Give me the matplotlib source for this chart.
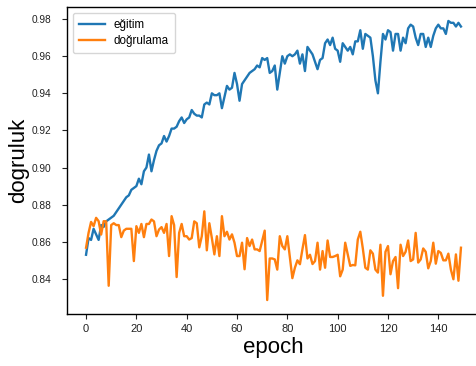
import matplotlib
matplotlib.use("Agg")
import matplotlib.pyplot as plt
import numpy as np

plt.rcParams['font.family'] = ['Liberation Sans', 'DejaVu Sans']

egitim = [
    0.853, 0.862, 0.861, 0.867, 0.864, 0.861, 0.869, 0.868, 0.871, 0.872,
    0.873, 0.874, 0.876, 0.878, 0.880, 0.882, 0.884, 0.885, 0.888, 0.889,
    0.890, 0.894, 0.891, 0.898, 0.900, 0.907, 0.898, 0.904, 0.909, 0.912,
    0.913, 0.917, 0.914, 0.917, 0.921, 0.921, 0.922, 0.925, 0.927, 0.924,
    0.926, 0.927, 0.931, 0.929, 0.928, 0.928, 0.927, 0.934, 0.935, 0.934,
    0.940, 0.939, 0.939, 0.940, 0.932, 0.938, 0.944, 0.942, 0.943, 0.951,
    0.945, 0.936, 0.945, 0.947, 0.949, 0.951, 0.952, 0.953, 0.955, 0.954,
    0.959, 0.958, 0.959, 0.951, 0.952, 0.955, 0.942, 0.951, 0.960, 0.956,
    0.960, 0.961, 0.960, 0.961, 0.963, 0.956, 0.961, 0.952, 0.965, 0.963,
    0.961, 0.957, 0.953, 0.958, 0.959, 0.967, 0.969, 0.966, 0.970, 0.964,
    0.963, 0.957, 0.967, 0.965, 0.963, 0.965, 0.961, 0.968, 0.968, 0.974,
    0.964, 0.972, 0.971, 0.970, 0.960, 0.947, 0.940, 0.957, 0.972, 0.969,
    0.974, 0.973, 0.963, 0.972, 0.972, 0.963, 0.970, 0.967, 0.975, 0.977,
    0.976, 0.970, 0.966, 0.972, 0.972, 0.965, 0.970, 0.965, 0.971, 0.975,
    0.977, 0.975, 0.975, 0.972, 0.979, 0.978, 0.978, 0.976, 0.978, 0.976,
]

dogrulama = [
    0.8568, 0.8648, 0.8707, 0.8684, 0.8729, 0.8711, 0.8639, 0.8711, 0.8710, 0.8363,
    0.8690, 0.8700, 0.8690, 0.8690, 0.8625, 0.8660, 0.8670, 0.8670, 0.8670, 0.8496,
    0.8684, 0.8648, 0.8696, 0.8625, 0.8696, 0.8696, 0.8720, 0.8710, 0.8630, 0.8666,
    0.8679, 0.8648, 0.8696, 0.8523, 0.8738, 0.8690, 0.8410, 0.8648, 0.8696, 0.8630,
    0.8630, 0.8612, 0.8620, 0.8710, 0.8700, 0.8570, 0.8630, 0.8764, 0.8554, 0.8700,
    0.8620, 0.8532, 0.8630, 0.8523, 0.8738, 0.8630, 0.8654, 0.8612, 0.8640, 0.8595,
    0.8523, 0.8523, 0.8595, 0.8452, 0.8620, 0.8577, 0.8612, 0.8559, 0.8559, 0.8550,
    0.8605, 0.8660, 0.8286, 0.8510, 0.8510, 0.8505, 0.8450, 0.8630, 0.8577, 0.8559,
    0.8630, 0.8518, 0.8404, 0.8460, 0.8500, 0.8479, 0.8560, 0.8636, 0.8510, 0.8530,
    0.8480, 0.8496, 0.8595, 0.8450, 0.8550, 0.8460, 0.8607, 0.8518, 0.8518, 0.8523,
    0.8530, 0.8414, 0.8450, 0.8595, 0.8532, 0.8470, 0.8475, 0.8473, 0.8612, 0.8654,
    0.8564, 0.8460, 0.8450, 0.8554, 0.8536, 0.8450, 0.8434, 0.8584, 0.8309, 0.8546,
    0.8577, 0.8425, 0.8496, 0.8518, 0.8350, 0.8584, 0.8523, 0.8546, 0.8607, 0.8496,
    0.8505, 0.8648, 0.8488, 0.8505, 0.8564, 0.8546, 0.8457, 0.8496, 0.8595, 0.8482,
    0.8550, 0.8540, 0.8500, 0.8500, 0.8536, 0.8450, 0.8398, 0.8532, 0.8390, 0.8568,
]

epochs = np.arange(len(egitim))

fig = plt.figure(figsize=(4.76, 3.66), dpi=100)
ax = fig.add_axes([67.3 / 476, 52 / 366, 412.4 / 476, 307 / 366])

ax.plot(epochs, egitim, color='#1f77b4', lw=1.7, label='eğitim')
ax.plot(epochs, dogrulama, color='#ff7f0e', lw=1.7, label='doğrulama')

ax.set_xticks([0, 20, 40, 60, 80, 100, 120, 140])
ax.set_yticks([0.84, 0.86, 0.88, 0.90, 0.92, 0.94, 0.96, 0.98])
ax.set_yticklabels(['0.84', '0.86', '0.88', '0.90', '0.92', '0.94', '0.96', '0.98'])
ax.tick_params(axis='x', labelsize=8, length=3.5, width=0.8, pad=4,
               colors='#222222')
ax.tick_params(axis='y', labelsize=7.3, length=3.5, width=0.8, pad=8,
               colors='#222222')
for s in ax.spines.values():
    s.set_linewidth(1.0)
    s.set_color('black')

ax.set_xlabel('epoch', fontsize=16, labelpad=2)
ax.set_ylabel('dogruluk', fontsize=16, labelpad=2)

ax.legend(loc='upper left', fontsize=8.4, handlelength=2.2, borderpad=0.5,
          labelspacing=0.4, framealpha=0.8)

fig.savefig('out.png', dpi=100)
